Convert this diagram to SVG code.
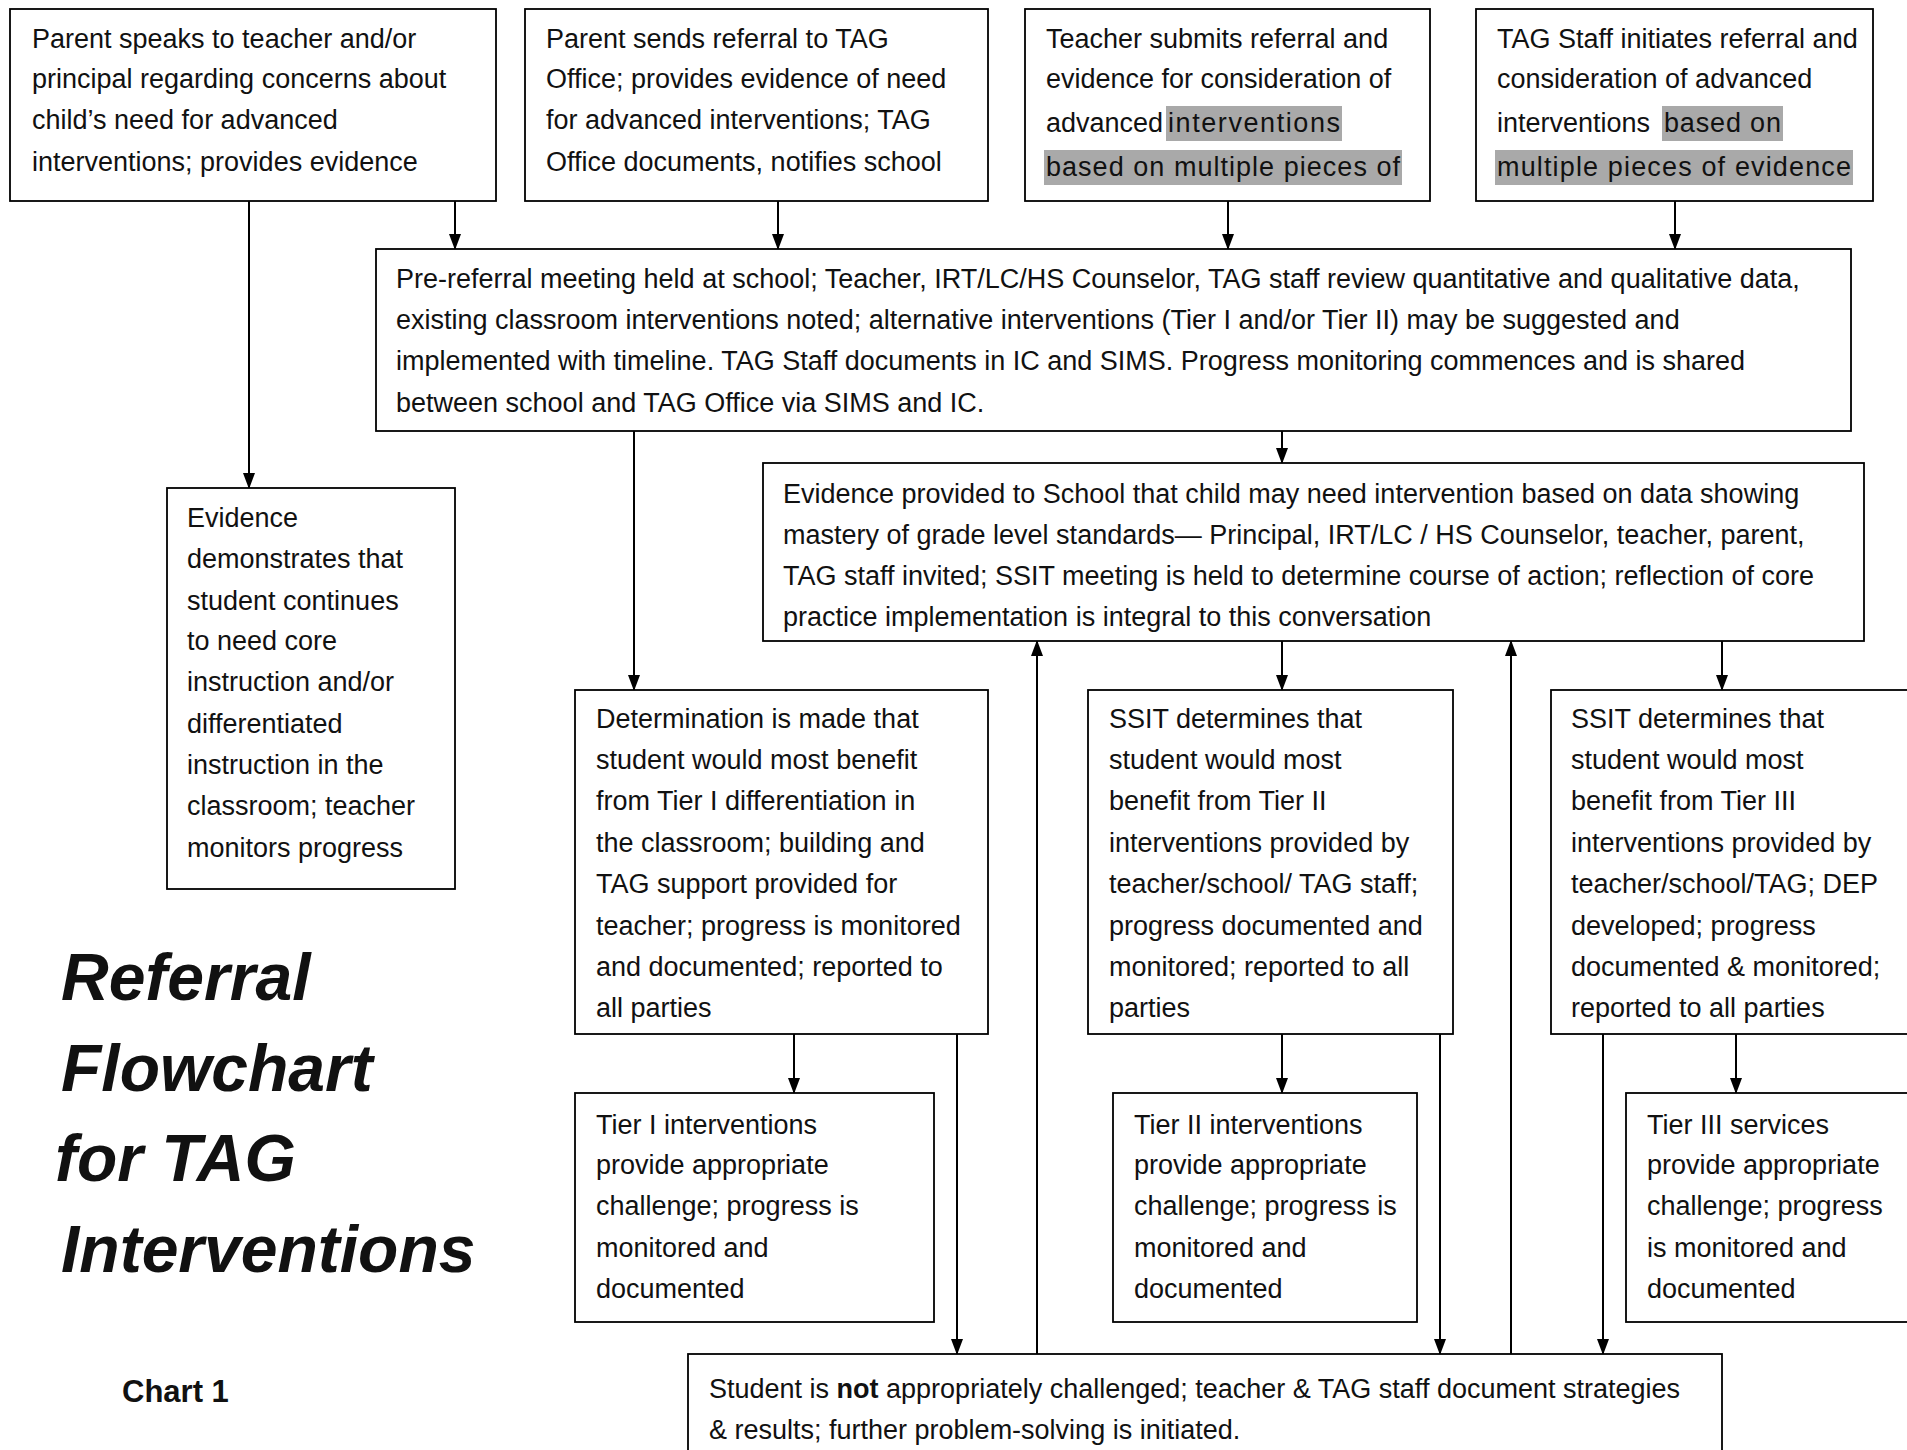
<svg xmlns="http://www.w3.org/2000/svg" width="1907" height="1450" viewBox="0 0 1907 1450">
<style>
.box{fill:#fff;stroke:#000;stroke-width:1.8}
.t{font-family:"Liberation Sans",Arial,sans-serif;font-size:27px;fill:#111}
.c{stroke:#000;stroke-width:2;fill:none;marker-end:url(#ahd)}
.hl{fill:#a9a9a9}
.title{font-family:"Liberation Sans",Arial,sans-serif;font-size:66px;font-weight:bold;font-style:italic;fill:#111}
.chart{font-family:"Liberation Sans",Arial,sans-serif;font-size:31px;font-weight:bold;fill:#111}
</style>
<defs>
<marker id="ahd" markerUnits="userSpaceOnUse" markerWidth="16" markerHeight="12" refX="15" refY="6" orient="auto" viewBox="0 0 16 12">
<path d="M0,0 L16,6 L0,12 Z" fill="#000"/>
</marker>
</defs>
<rect width="1907" height="1450" fill="#fff"/>

<g id="connectors">
<line class="c" x1="455" y1="201" x2="455" y2="249"/>
<line class="c" x1="778" y1="201" x2="778" y2="249"/>
<line class="c" x1="1228" y1="201" x2="1228" y2="249"/>
<line class="c" x1="1675" y1="201" x2="1675" y2="249"/>
<line class="c" x1="249" y1="201" x2="249" y2="488"/>
<line class="c" x1="1282" y1="431" x2="1282" y2="463"/>
<line class="c" x1="634" y1="431" x2="634" y2="690"/>
<line class="c" x1="1282" y1="641" x2="1282" y2="690"/>
<line class="c" x1="1722" y1="641" x2="1722" y2="690"/>
<line class="c" x1="794" y1="1034" x2="794" y2="1093"/>
<line class="c" x1="1282" y1="1034" x2="1282" y2="1093"/>
<line class="c" x1="1736" y1="1034" x2="1736" y2="1093"/>
<line class="c" x1="957" y1="1034" x2="957" y2="1354"/>
<line class="c" x1="1440" y1="1034" x2="1440" y2="1354"/>
<line class="c" x1="1603" y1="1034" x2="1603" y2="1354"/>
<line class="c" x1="1037" y1="1354" x2="1037" y2="641"/>
<line class="c" x1="1511" y1="1354" x2="1511" y2="641"/>
</g>

<g id="node-parent-speaks">
<rect class="box" x="10" y="9" width="486" height="192"/>
<text class="t" x="32" y="48">Parent speaks to teacher and/or</text>
<text class="t" x="32" y="88">principal regarding concerns about</text>
<text class="t" x="32" y="129">child’s need for advanced</text>
<text class="t" x="32" y="171">interventions; provides evidence</text>
</g>

<g id="node-parent-sends">
<rect class="box" x="525" y="9" width="463" height="192"/>
<text class="t" x="546" y="48">Parent sends referral to TAG</text>
<text class="t" x="546" y="88">Office; provides evidence of need</text>
<text class="t" x="546" y="129">for advanced interventions; TAG</text>
<text class="t" x="546" y="171">Office documents, notifies school</text>
</g>

<g id="node-teacher-submits">
<rect class="box" x="1025" y="9" width="405" height="192"/>
<rect class="hl" x="1166" y="106" width="176" height="35"/>
<rect class="hl" x="1044" y="150" width="358" height="35"/>
<text class="t" x="1046" y="48">Teacher submits referral and</text>
<text class="t" x="1046" y="88">evidence for consideration of</text>
<text class="t" x="1046" y="132">advanced <tspan x="1168" textLength="172" lengthAdjust="spacing">interventions</tspan></text>
<text class="t" x="1046" y="176" textLength="354" lengthAdjust="spacing">based on multiple pieces of</text>
</g>

<g id="node-tag-initiates">
<rect class="box" x="1476" y="9" width="397" height="192"/>
<rect class="hl" x="1662" y="106" width="121" height="35"/>
<rect class="hl" x="1495" y="150" width="358" height="35"/>
<text class="t" x="1497" y="48">TAG Staff initiates referral and</text>
<text class="t" x="1497" y="88">consideration of advanced</text>
<text class="t" x="1497" y="132">interventions <tspan x="1664" textLength="117" lengthAdjust="spacing">based on</tspan></text>
<text class="t" x="1497" y="176" textLength="354" lengthAdjust="spacing">multiple pieces of evidence</text>
</g>

<g id="node-prereferral">
<rect class="box" x="376" y="249" width="1475" height="182"/>
<text class="t" x="396" y="288">Pre-referral meeting held at school; Teacher, IRT/LC/HS Counselor, TAG staff review quantitative and qualitative data,</text>
<text class="t" x="396" y="329">existing classroom interventions noted; alternative interventions (Tier I and/or Tier II) may be suggested and</text>
<text class="t" x="396" y="370">implemented with timeline. TAG Staff documents in IC and SIMS. Progress monitoring commences and is shared</text>
<text class="t" x="396" y="412">between school and TAG Office via SIMS and IC.</text>
</g>

<g id="node-evidence-core">
<rect class="box" x="167" y="488" width="288" height="401"/>
<text class="t" x="187" y="527">Evidence</text>
<text class="t" x="187" y="568">demonstrates that</text>
<text class="t" x="187" y="610">student continues</text>
<text class="t" x="187" y="650">to need core</text>
<text class="t" x="187" y="691">instruction and/or</text>
<text class="t" x="187" y="733">differentiated</text>
<text class="t" x="187" y="774">instruction in the</text>
<text class="t" x="187" y="815">classroom; teacher</text>
<text class="t" x="187" y="857">monitors progress</text>
</g>

<g id="node-evidence-school">
<rect class="box" x="763" y="463" width="1101" height="178"/>
<text class="t" x="783" y="503">Evidence provided to School that child may need intervention based on data showing</text>
<text class="t" x="783" y="544">mastery of grade level standards— Principal, IRT/LC / HS Counselor, teacher, parent,</text>
<text class="t" x="783" y="585">TAG staff invited; SSIT meeting is held to determine course of action; reflection of core</text>
<text class="t" x="783" y="626">practice implementation is integral to this conversation</text>
</g>

<g id="node-determination-tier1">
<rect class="box" x="575" y="690" width="413" height="344"/>
<text class="t" x="596" y="728">Determination is made that</text>
<text class="t" x="596" y="769">student would most benefit</text>
<text class="t" x="596" y="810">from Tier I differentiation in</text>
<text class="t" x="596" y="852">the classroom; building and</text>
<text class="t" x="596" y="893">TAG support provided for</text>
<text class="t" x="596" y="935">teacher; progress is monitored</text>
<text class="t" x="596" y="976">and documented; reported to</text>
<text class="t" x="596" y="1017">all parties</text>
</g>

<g id="node-ssit-tier2">
<rect class="box" x="1088" y="690" width="365" height="344"/>
<text class="t" x="1109" y="728">SSIT determines that</text>
<text class="t" x="1109" y="769">student would most</text>
<text class="t" x="1109" y="810">benefit from Tier II</text>
<text class="t" x="1109" y="852">interventions provided by</text>
<text class="t" x="1109" y="893">teacher/school/ TAG staff;</text>
<text class="t" x="1109" y="935">progress documented and</text>
<text class="t" x="1109" y="976">monitored; reported to all</text>
<text class="t" x="1109" y="1017">parties</text>
</g>

<g id="node-ssit-tier3">
<rect class="box" x="1551" y="690" width="380" height="344"/>
<text class="t" x="1571" y="728">SSIT determines that</text>
<text class="t" x="1571" y="769">student would most</text>
<text class="t" x="1571" y="810">benefit from Tier III</text>
<text class="t" x="1571" y="852">interventions provided by</text>
<text class="t" x="1571" y="893">teacher/school/TAG; DEP</text>
<text class="t" x="1571" y="935">developed; progress</text>
<text class="t" x="1571" y="976">documented &amp; monitored;</text>
<text class="t" x="1571" y="1017">reported to all parties</text>
</g>

<g id="node-tier1-interventions">
<rect class="box" x="575" y="1093" width="359" height="229"/>
<text class="t" x="596" y="1134">Tier I interventions</text>
<text class="t" x="596" y="1174">provide appropriate</text>
<text class="t" x="596" y="1215">challenge; progress is</text>
<text class="t" x="596" y="1257">monitored and</text>
<text class="t" x="596" y="1298">documented</text>
</g>

<g id="node-tier2-interventions">
<rect class="box" x="1113" y="1093" width="304" height="229"/>
<text class="t" x="1134" y="1134">Tier II interventions</text>
<text class="t" x="1134" y="1174">provide appropriate</text>
<text class="t" x="1134" y="1215">challenge; progress is</text>
<text class="t" x="1134" y="1257">monitored and</text>
<text class="t" x="1134" y="1298">documented</text>
</g>

<g id="node-tier3-services">
<rect class="box" x="1626" y="1093" width="300" height="229"/>
<text class="t" x="1647" y="1134">Tier III services</text>
<text class="t" x="1647" y="1174">provide appropriate</text>
<text class="t" x="1647" y="1215">challenge; progress</text>
<text class="t" x="1647" y="1257">is monitored and</text>
<text class="t" x="1647" y="1298">documented</text>
</g>

<g id="node-not-challenged">
<rect class="box" x="688" y="1354" width="1034" height="120"/>
<text class="t" x="709" y="1398">Student is <tspan font-weight="bold">not</tspan> appropriately challenged; teacher &amp; TAG staff document strategies</text>
<text class="t" x="709" y="1439">&amp; results; further problem-solving is initiated.</text>
</g>

<g id="title">
<text class="title" x="61" y="1000">Referral</text>
<text class="title" x="61" y="1091">Flowchart</text>
<text class="title" x="55" y="1181">for TAG</text>
<text class="title" x="61" y="1272">Interventions</text>
<text class="chart" x="122" y="1402">Chart 1</text>
</g>
</svg>
